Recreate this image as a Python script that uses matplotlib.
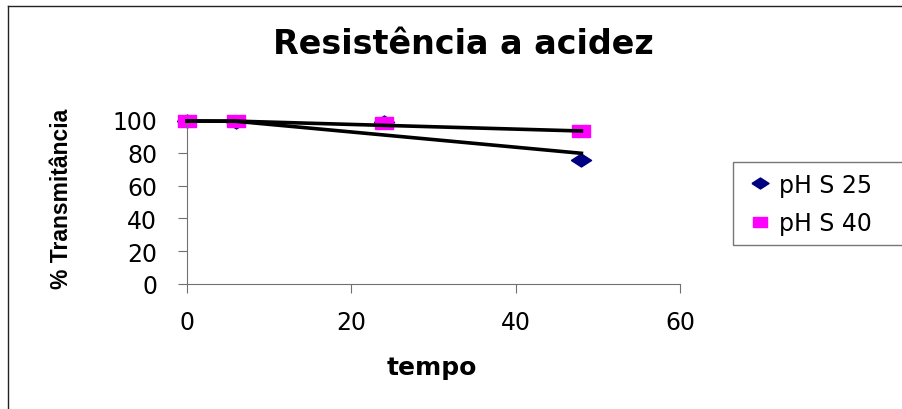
import matplotlib.pyplot as plt
from matplotlib.lines import Line2D

plt.rcParams['font.family'] = ['DejaVu Sans']

# data
tempo = [0, 6, 24, 48]
ph_s25 = [99.4, 98.8, 98.8, 75.6]
ph_s40 = [99.4, 99.5, 98.2, 93.1]

# black lines drawn over the points
trend_x = [0, 6, 48]
trend_s25 = [99.4, 99.2, 79.7]
trend_s40 = [99.4, 99.3, 93.3]

W, H = 902, 410
fig = plt.figure(figsize=(W / 100, H / 100), dpi=100)

# chart border (only top and left edges fall inside the image)
fig.add_artist(Line2D([8 / W, 8 / W], [0, 1 - 6.5 / H], color='#222222', linewidth=1.0))
fig.add_artist(Line2D([8 / W, 1], [1 - 6.5 / H, 1 - 6.5 / H], color='#222222', linewidth=1.0))

ax = fig.add_axes([187 / W, 1 - 285 / H, (680 - 187) / W, (285 - 121) / H])

# the original is stretched sideways, so the markers are wide
diamond = [(-1.55, 0), (0, 1), (1.55, 0), (0, -1), (-1.55, 0)]
square = [(-1.55, -1), (1.55, -1), (1.55, 1), (-1.55, 1), (-1.55, -1)]

ax.plot(tempo, ph_s25, linestyle='none', marker=diamond, markersize=14.5, color='#000080',
        label='pH S 25', clip_on=False, zorder=2)
ax.plot(tempo, ph_s40, linestyle='none', marker=square, markersize=12.5, color='#ff00ff',
        label='pH S 40', clip_on=False, zorder=2)
ax.plot(trend_x, trend_s25, color='black', linewidth=2.6, clip_on=False, zorder=3)
ax.plot(trend_x, trend_s40, color='black', linewidth=2.6, clip_on=False, zorder=3)

ax.set_xlim(0, 60)
ax.set_ylim(0, 100)
ax.set_xticks([0, 20, 40, 60])
ax.set_yticks([0, 20, 40, 60, 80, 100])
for side in ['top', 'right']:
    ax.spines[side].set_visible(False)
for side in ['left', 'bottom']:
    ax.spines[side].set_color('#707070')
ax.tick_params(direction='out', length=6.5, color='#707070', labelsize=17)
ax.tick_params(axis='y', pad=15)
ax.tick_params(axis='x', pad=12)

fig.text(432 / W, 1 - 368 / H, 'tempo', ha='center', va='center',
         fontsize=18, fontweight='bold')
fig.text(62 / W, 1 - 199 / H, '% Transmitância', ha='center', va='center', rotation=90,
         fontsize=16.5, fontweight='bold', family=['Liberation Sans', 'DejaVu Sans'])

fig.text(463 / W, 1 - 44 / H, 'Resistência a acidez', ha='center', va='center',
         fontsize=24, fontweight='bold')

leg = fig.legend(loc='upper left', bbox_to_anchor=(733 / W, 1 - 243 / H, 0.3, 80 / H),
                 mode='expand', fontsize=17, frameon=True, fancybox=False,
                 edgecolor='#555555', handletextpad=0.1, handlelength=1.4,
                 borderpad=0.45, labelspacing=0.6, borderaxespad=0, markerscale=0.85)
leg.get_frame().set_linewidth(1.0)

fig.savefig('out.png', dpi=100)
